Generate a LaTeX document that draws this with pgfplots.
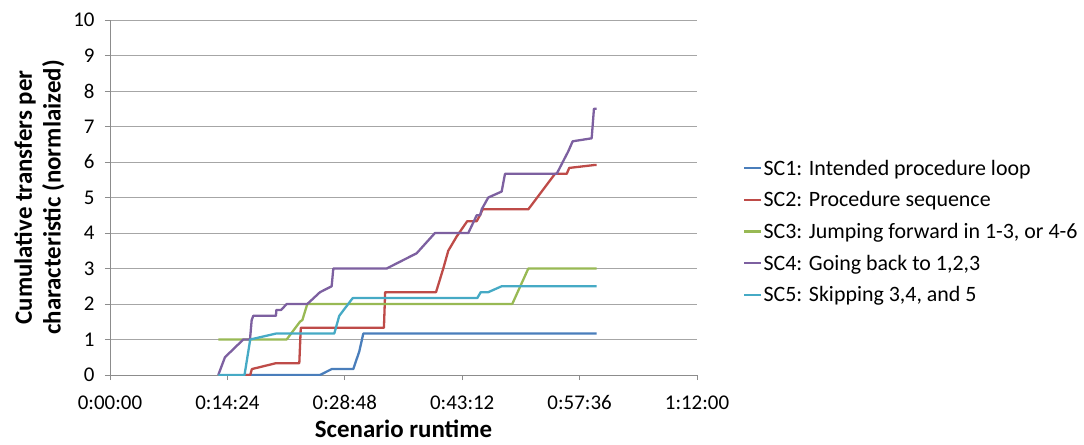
\documentclass[border=0pt]{standalone}
\usepackage{fontspec}
\setmainfont{Carlito}
\usepackage{pgfplots}
\pgfplotsset{compat=1.18}

\definecolor{scA}{HTML}{4A7EBB}
\definecolor{scB}{HTML}{BE4B48}
\definecolor{scC}{HTML}{98B954}
\definecolor{scD}{HTML}{7D60A0}
\definecolor{scE}{HTML}{46AAC5}
\definecolor{gridgray}{HTML}{A6A6A6}
\definecolor{axisgray}{HTML}{8C8C8C}

\begin{document}
\begin{tikzpicture}
\begin{axis}[
  scale only axis, width=587bp, height=355bp,
  xmin=0, xmax=72, ymin=0, ymax=10,
  axis lines=left,
  axis line style={-, draw=axisgray, line width=0.8bp},
  xtick={0,14.4,28.8,43.2,57.6,72},
  xticklabels={0:00:00,0:14:24,0:28:48,0:43:12,0:57:36,1:12:00},
  ytick={0,1,...,10},
  ymajorgrids,
  grid style={gridgray, line width=0.8bp},
  tick align=outside, major tick length=5bp,
  tick style={axisgray, line width=0.8bp},
  /pgf/number format/assume math mode=true,
  ticklabel style={font=\fontsize{21}{25}\selectfont, text=black},
  xticklabel style={yshift=-12bp},
  yticklabel style={xshift=-7bp},
  xlabel={Scenario runtime},
  ylabel={Cumulative transfers per\\characteristic (normlaized)},
  label style={font=\fontsize{25}{29}\selectfont\bfseries},
  ylabel style={align=center},
  xlabel shift=3bp, ylabel shift=2bp,
  legend style={draw=none, fill=none, at={(1.0735,0.404)}, anchor=west,
    font=\fontsize{22}{26}\selectfont, row sep=15bp,
    nodes={inner xsep=1bp, inner ysep=0pt}},
  legend cell align=left,
  legend image code/.code={\draw[#1] (0bp,0bp) -- (17bp,0bp);},
  every axis plot/.append style={line width=2.3bp, line join=round},
]
% SC1
\addplot[scA] coordinates {
  (16.35,0) (25.76,0) (27.19,0.167) (29.84,0.167) (30.58,0.667)
  (31.07,1.167) (59.70,1.167)};
% SC2
\addplot[scB] coordinates {
  (16.5,0) (17.2,0) (17.4,0.167) (20.36,0.333) (23.22,0.333) (23.4,1.333)
  (33.6,1.333) (33.75,2.333) (39.99,2.333) (40.88,3.0) (41.49,3.5)
  (42.52,3.9) (43.82,4.333) (44.98,4.333) (45.38,4.5) (45.71,4.667)
  (51.31,4.667) (54.58,5.667) (56.02,5.667) (56.33,5.833) (59.49,5.917)
  (59.70,5.917)};
% SC3
\addplot[scC] coordinates {
  (13.28,1.0) (21.67,1.0) (23.3,1.5) (23.6,1.55) (24.2,2.0) (49.34,2.0)
  (51.31,3.0) (59.70,3.0)};
% SC4
\addplot[scD] coordinates {
  (13.28,0) (14.1,0.5) (16.35,1.0) (17.17,1.0) (17.38,1.55) (17.58,1.667)
  (20.36,1.667) (20.4,1.833) (21.0,1.833) (21.67,2.0) (24.2,2.0)
  (25.76,2.333) (27.19,2.5) (27.39,3.0) (33.94,3.0) (37.62,3.43)
  (39.86,4.0) (43.95,4.0) (44.98,4.5) (45.4,4.5) (45.59,4.667) (46.40,5.0)
  (48.04,5.167) (48.45,5.667) (54.79,5.667) (56.21,6.3) (56.75,6.583)
  (59.08,6.667) (59.36,7.5) (59.70,7.5)};
% SC5
\addplot[scE] coordinates {
  (13.28,0) (16.5,0) (17.2,1.0) (20.36,1.167) (27.51,1.167) (28.12,1.667)
  (29.77,2.167) (45.05,2.167) (45.47,2.333) (46.40,2.333) (48.04,2.5)
  (59.70,2.5)};
\legend{SC1: Intended procedure loop, SC2: Procedure sequence,
  SC3: Jumping forward in 1-3{,} or 4-6, SC4: Going back to 1{,}2{,}3,
  SC5: Skipping 3{,}4{,} and 5}
\end{axis}
\pgfresetboundingbox
\path (-110bp,-70bp) rectangle (974bp,375bp);
\end{tikzpicture}
\end{document}
